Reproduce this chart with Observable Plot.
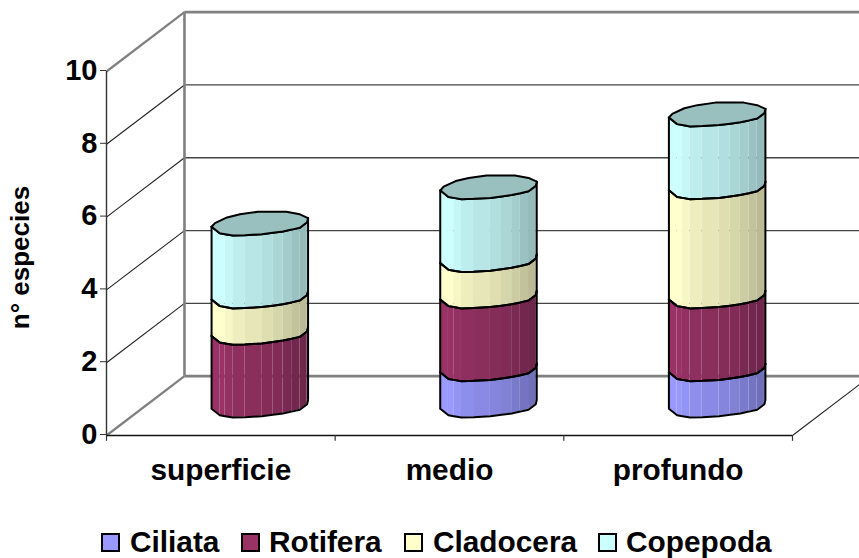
<!DOCTYPE html>
<html lang="es">
<head>
<meta charset="utf-8">
<script src="https://cdn.jsdelivr.net/npm/d3@7"></script>
<script src="https://cdn.jsdelivr.net/npm/@observablehq/plot@0.6"></script>
<style>
  html, body { margin: 0; padding: 0; background: #fff; overflow: hidden; }
  #chart svg { display: block; }
  .legend { position: relative; height: 33px; font: bold 29.8px "Liberation Sans", Arial, sans-serif; color: #000; }
  .legend span { position: absolute; top: 0; line-height: 33px; white-space: nowrap; }
  .legend i { position: absolute; top: 8px; width: 15px; height: 15px; border: 2px solid #000; box-sizing: content-box; }
</style>
</head>
<body>
<div id="chart"></div>
<div class="legend" id="legend"></div>
<script>
// Species counts per depth zone
const categories = ["superficie", "medio", "profundo"];
const speciesNames = ["Ciliata", "Rotifera", "Cladocera", "Copepoda"];
const ciliata = [0, 1, 1];
const rotifera = [2, 2, 2];
const cladocera = [1, 1, 3];
const copepoda = [2, 2, 2];
const speciesValues = [ciliata, rotifera, cladocera, copepoda];
const speciesColors = ["#9999ff", "#993366", "#ffffcc", "#ccffff"];
const yTicks = [0, 2, 4, 6, 8, 10];

// Oblique depth of the box, in scale units
const depthX = 0.341;
const depthY = 1.63;

// Faceted cylinder outline, normalised to its radii
const frontAcross = [-1, -0.83, -0.72, -0.56, -0.31, 0.04, 0.27, 0.48, 0.66, 0.83, 0.98, 1];
const frontDepth = [0.24, 0.79, 0.87, 0.98, 0.95, 0.87, 0.75, 0.63, 0.48, 0.32, -0.13, -0.48];
const backAcross = [0.83, 0.55, -0.04, -0.41, -0.68, -0.93];
const backDepth = [-0.79, -1, -1, -0.79, -0.53, -0.06];
const facetShade = [1, 1, 0.97, 0.93, 0.9, 0.87, 0.84, 0.8, 0.76, 0.73, 0.7];
const capShade = 0.75;
const radiusX = 0.211;
const radiusY = 0.33;

const shade = (color, k) => {
  const c = d3.rgb(color);
  return d3.rgb(c.r * k, c.g * k, c.b * k).formatHex();
};
const centerX = (i) => i + 0.5 + depthX / 2;
const ringX = (i, a) => centerX(i) + a * radiusX;
const ringY = (v, d) => v + depthY / 2 - d * radiusY;

// Stack each species per depth zone
const segments = [];
categories.forEach((cat, i) => {
  let base = 0;
  speciesValues.forEach((values, s) => {
    const v = values[i];
    if (v > 0) segments.push({i, s, lo: base, hi: base + v});
    base += v;
  });
});

// One side facet of each segment is a narrow band between two outline points
const facets = segments.flatMap((seg, n) =>
  facetShade.flatMap((k, f) => [f, f + 1].map((p) => ({
    x: ringX(seg.i, frontAcross[p]),
    lo: ringY(seg.lo, frontDepth[p]),
    hi: ringY(seg.hi, frontDepth[p]),
    key: `${n}-${f}`,
    fill: shade(speciesColors[seg.s], k)
  })))
);

// Front edges at the foot and at the top of each segment
const arcs = segments.flatMap((seg, n) =>
  [seg.lo, seg.hi].flatMap((v, e) => frontAcross.map((a, p) => ({
    x: ringX(seg.i, a),
    y: ringY(v, frontDepth[p]),
    key: `${n}-${e}`
  })))
);

// Silhouette sides of each whole column
const last = frontAcross.length - 1;
const sides = categories.flatMap((cat, i) => {
  const total = d3.sum(speciesValues, (values) => values[i]);
  return [0, last].map((p) => ({
    x: ringX(i, frontAcross[p]),
    y1: ringY(0, frontDepth[p]),
    y2: ringY(total, frontDepth[p])
  }));
});

// Top cap of each column
const caps = categories.flatMap((cat, i) => {
  const total = d3.sum(speciesValues, (values) => values[i]);
  const across = [...frontAcross, ...backAcross, frontAcross[0]];
  const depth = [...frontDepth, ...backDepth, frontDepth[0]];
  return across.map((a, p) => ({x: ringX(i, a), y: ringY(total, depth[p]), key: i}));
});

const font = "'Liberation Sans', Arial, sans-serif";
const gridValues = yTicks.slice(1, -1);
const topValue = yTicks[yTicks.length - 1];

const plot = Plot.plot({
  width: 859,
  height: 525,
  marginLeft: 106,
  marginRight: 67,
  marginTop: 71,
  marginBottom: 90,
  style: {fontFamily: font, background: "#fff"},
  x: {domain: [0, categories.length], axis: null},
  y: {domain: [0, topValue], axis: null},
  color: {type: "identity"},
  marks: [
    // Back wall grid lines, left wall diagonals and floor edges
    Plot.link(gridValues, {x1: depthX, x2: 3 + depthX, y1: (v) => v + depthY, y2: (v) => v + depthY, stroke: "#444", strokeWidth: 1.3}),
    Plot.link(gridValues, {x1: 0, x2: depthX, y1: (v) => v, y2: (v) => v + depthY, stroke: "#222", strokeWidth: 1.1}),
    Plot.link([0, topValue], {x1: 0, x2: depthX, y1: (v) => v, y2: (v) => v + depthY, stroke: "#808080", strokeWidth: 2.2}),
    Plot.link([0, topValue], {x1: depthX, x2: 3 + depthX, y1: (v) => v + depthY, y2: (v) => v + depthY, stroke: "#808080", strokeWidth: 2.6}),
    Plot.ruleX([depthX], {y1: depthY, y2: topValue + depthY, stroke: "#808080", strokeWidth: 2.6}),
    Plot.link([3], {x1: 3, x2: 3 + depthX, y1: 0, y2: depthY, stroke: "#222", strokeWidth: 1.1}),

    // Cylinders
    Plot.areaY(facets, {x: "x", y1: "lo", y2: "hi", z: "key", fill: "fill", curve: "linear"}),
    Plot.line(arcs, {x: "x", y: "y", z: "key", stroke: "#000", strokeWidth: 2, curve: "linear"}),
    Plot.ruleX(sides, {x: "x", y1: "y1", y2: "y2", stroke: "#000", strokeWidth: 2}),
    Plot.line(caps, {x: "x", y: "y", z: "key", fill: shade(speciesColors[3], capShade), stroke: "#000", strokeWidth: 2, curve: "linear"}),

    // Axes
    Plot.ruleX([0], {y1: 0, y2: topValue, stroke: "#333", strokeWidth: 1.4}),
    Plot.ruleY([0], {x1: 0, x2: categories.length, stroke: "#111", strokeWidth: 1.3}),
    Plot.ruleX(d3.range(categories.length + 1), {y1: 0, y2: -0.16, stroke: "#333", strokeWidth: 1.2}),
    Plot.axisY(yTicks, {
      tickSize: 6, tickPadding: 3, label: null, stroke: "#333",
      fill: "#000", fontSize: 29, fontWeight: "bold", dy: -1
    }),
    Plot.axisX(categories.map((c, i) => i + 0.5), {
      tickSize: 0, tickPadding: 23, label: null, fill: "#000",
      tickFormat: (v) => categories[Math.floor(v)],
      fontSize: 29.8, fontWeight: "bold"
    }),
    Plot.text(["n° especies"], {
      frameAnchor: "left", textAnchor: "middle", dx: -86, dy: 4, rotate: -90,
      fontSize: 26, fontWeight: "bold", fill: "#000"
    })
  ]
});
document.getElementById("chart").append(plot);

// Legend row under the chart
const legendSlots = [[101, 130], [241, 269], [404, 433], [598, 626]];
const legend = document.getElementById("legend");
speciesNames.forEach((name, s) => {
  const box = document.createElement("i");
  box.style.left = legendSlots[s][0] + "px";
  box.style.background = speciesColors[s];
  const label = document.createElement("span");
  label.style.left = legendSlots[s][1] + "px";
  label.textContent = name;
  legend.append(box, label);
});
</script>
</body>
</html>
